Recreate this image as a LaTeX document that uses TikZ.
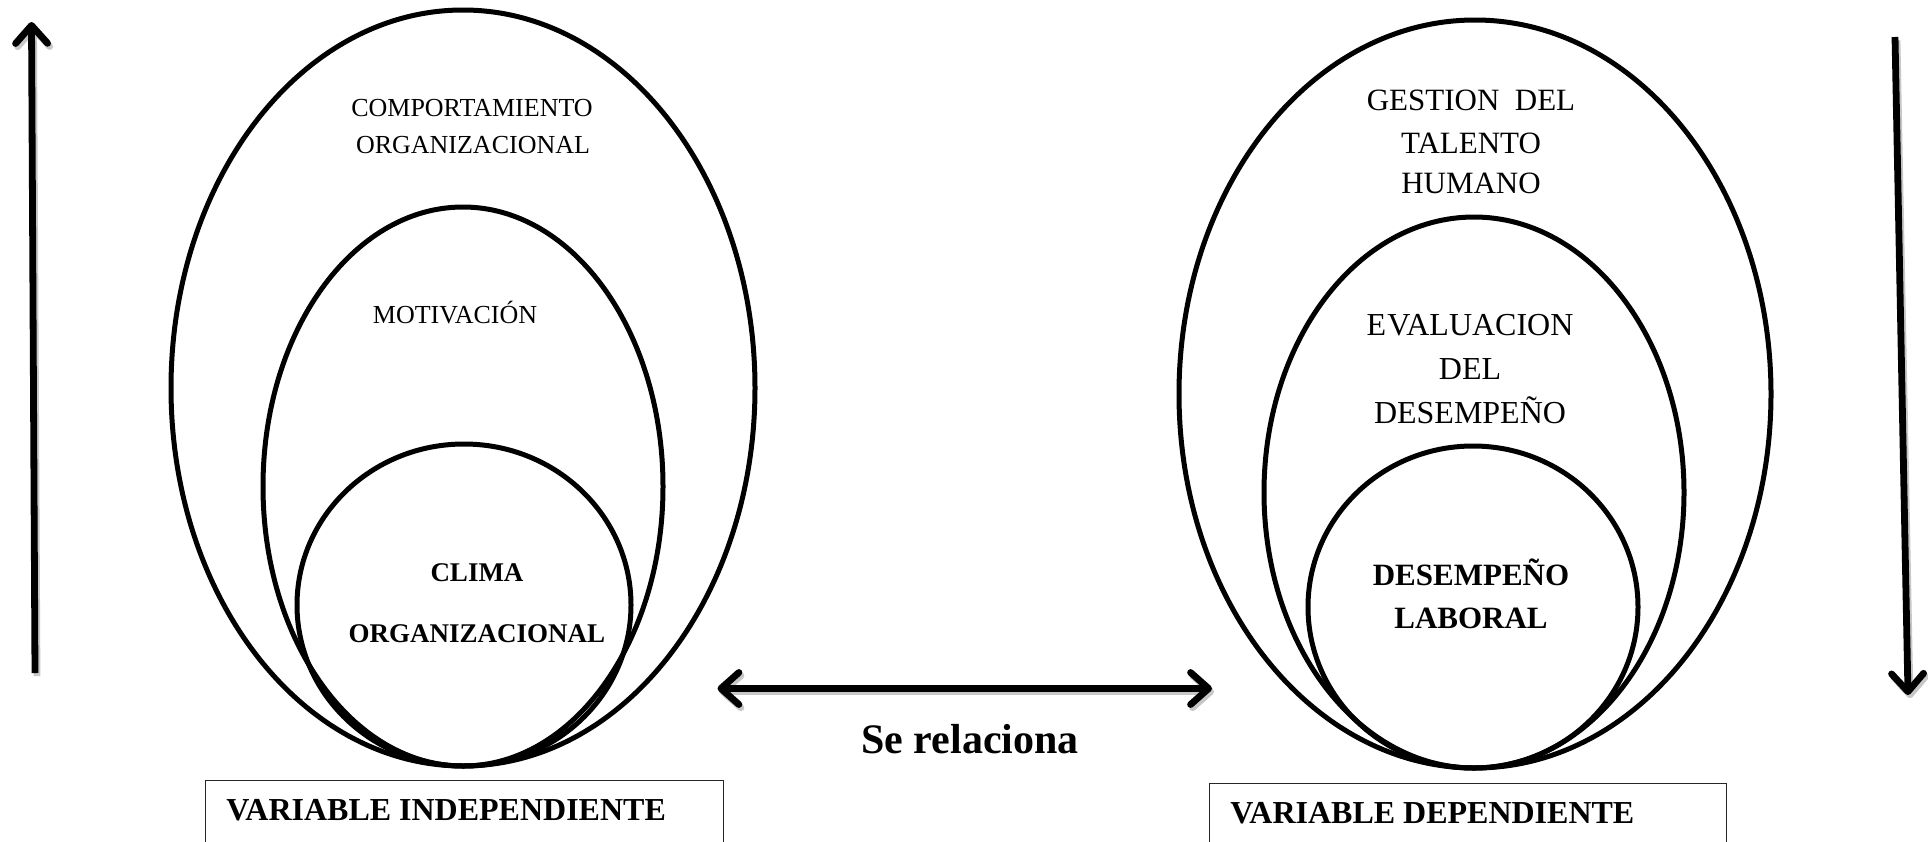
\documentclass[tikz,border=0pt]{standalone}
\usepackage{fontspec}
\setmainfont{Liberation Serif}
\usetikzlibrary{shapes.geometric,arrows.meta}
\tikzset{
  ring/.style={draw, ellipse, line width=2.5pt, inner sep=0pt},
  lbl/.style={anchor=base, inner sep=0pt, font=\fontsize{13}{15}\selectfont},
  bigarrow/.style={line width=3.4pt, -{Straight Barb[length=9pt,width=16pt,round]},
    preaction={draw=black!22, line width=3.4pt, transform canvas={shift={(1pt,-1.6pt)}}}},
  varbox/.style={draw=black!85, line width=0.7pt, anchor=north west, inner sep=0pt},
  vartext/.style={anchor=base west, inner sep=0pt, font=\fontsize{16}{18}\selectfont\bfseries}
}
\begin{document}
\begin{tikzpicture}[x=0.5pt,y=-0.5pt]
\clip (0,0) rectangle (1928,841);
\fill[white] (0,0) rectangle (1928,841);
% left ellipses
\node[ring, minimum width=292pt, minimum height=378pt] (lo) at (463,388) {};
\node[ring, minimum width=200pt, minimum height=279.5pt] (lm) at (463,486.5) {};
\node[ring, minimum width=167pt, minimum height=161pt] (li) at (464,605) {};
% right ellipses
\node[ring, minimum width=296pt, minimum height=374pt] (ro) at (1475,394) {};
\node[ring, minimum width=210pt, minimum height=275.5pt] (rm) at (1474,492.5) {};
\node[ring, minimum width=165pt, minimum height=161pt] (ri) at (1473,607) {};
% left labels
\node[lbl] (t1) at (472,116.6) {COMPORTAMIENTO};
\node[lbl] (t2) at (473,153.6) {ORGANIZACIONAL};
\node[lbl] (t3) at (455,323.6) {MOTIVACIÓN};
\node[lbl, font=\fontsize{13.5}{15}\selectfont\bfseries] (t4) at (477,581) {CLIMA};
\node[lbl, font=\fontsize{13.5}{15}\selectfont\bfseries] (t5) at (477,642) {ORGANIZACIONAL};
% right labels
\node[lbl, font=\fontsize{15.5}{18}\selectfont] (r1) at (1471,110.3) {GESTION\ \ DEL};
\node[lbl, font=\fontsize{15.5}{18}\selectfont] (r2) at (1471,153.3) {TALENTO};
\node[lbl, font=\fontsize{15.5}{18}\selectfont] (r3) at (1471,193.3) {HUMANO};
\node[lbl, font=\fontsize{16}{18}\selectfont] (r4) at (1470,335.6) {E\kern0.6pt VALUACION};
\node[lbl, font=\fontsize{16}{18}\selectfont] (r5) at (1470,379.6) {DEL};
\node[lbl, font=\fontsize{16}{18}\selectfont] (r6) at (1470,423.6) {DESEMPEÑO};
\node[lbl, font=\fontsize{15.5}{18}\selectfont\bfseries] (r7) at (1471,585) {DESEMPEÑO};
\node[lbl, font=\fontsize{15.5}{18}\selectfont\bfseries] (r8) at (1471,628) {LABORAL};
% vertical arrows
\coordinate (la1) at (35,673);
\coordinate (la2) at (31.5,22);
\coordinate (ra1) at (1895,37);
\coordinate (ra2) at (1908,695);
\draw[bigarrow] (la1) -- (la2);
\draw[bigarrow] (ra1) -- (ra2);
% double arrow
\coordinate (da1) at (717.5,688.5);
\coordinate (da2) at (1212,688.5);
\draw[bigarrow, {Straight Barb[length=9pt,width=16pt,round]}-{Straight Barb[length=9pt,width=16pt,round]}] (da1) -- (da2);
\node[anchor=base, inner sep=0pt, font=\fontsize{21}{24}\selectfont\bfseries] (rel) at (970,753) {Se relaciona};
% variable boxes
\node[varbox, minimum width=259pt, minimum height=50pt] (bx1) at (205,780) {};
\node[vartext] (v1) at (226,820) {VARIABLE INDEPENDIENTE};
\node[varbox, minimum width=258.5pt, minimum height=50pt] (bx2) at (1209,783) {};
\node[vartext] (v2) at (1230,823) {VARIABLE DEPENDIENTE};
\end{tikzpicture}
\end{document}
